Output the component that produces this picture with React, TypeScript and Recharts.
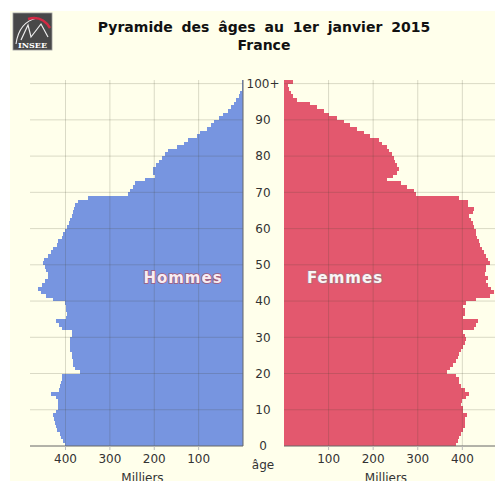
import React from 'react';
import { BarChart, Bar, XAxis, YAxis, ReferenceLine } from 'recharts';

// age classes, 0 .. 100+
const AGES = Array.from({ length: 101 }, (_, i) => (i === 100 ? '100+' : String(i)));

// population in thousands, age 0 first
const HOMMES = [
  401, 405, 410, 412, 420, 422, 424, 426, 428, 422,
  418, 417, 418, 422, 432, 414, 413, 410, 409, 407,
  368, 378, 382, 384, 386, 386, 389, 390, 390, 390,
  386, 386, 409, 414, 421, 398, 397, 398, 399, 401,
  428, 445, 455, 461, 452, 446, 440, 440, 443, 447,
  450, 448, 440, 432, 428, 420, 416, 408, 405, 401,
  396, 392, 390, 386, 382, 381, 379, 372, 350, 260,
  255, 248, 243, 221, 198, 203, 203, 195, 190, 183,
  175, 168, 149, 134, 123, 104, 97, 82, 72, 66,
  55, 44, 33, 28, 20, 15, 10, 6, 3, 2,
  2,
];

const FEMMES = [
  386, 390, 393, 397, 401, 405, 405, 406, 410, 401,
  401, 397, 399, 408, 416, 405, 397, 393, 392, 386,
  366, 372, 380, 386, 390, 393, 397, 401, 406, 408,
  405, 401, 427, 431, 435, 401, 405, 406, 401, 408,
  431, 461, 470, 465, 457, 453, 457, 450, 452, 453,
  461, 457, 452, 448, 445, 440, 438, 434, 431, 431,
  427, 423, 420, 416, 423, 427, 412, 412, 392, 295,
  292, 277, 262, 232, 245, 254, 258, 254, 248, 247,
  243, 235, 232, 220, 213, 194, 179, 164, 149, 134,
  119, 100, 89, 74, 59, 29, 21, 15, 12, 10,
  21,
];

const AGE_TICKS = ['0', '10', '20', '30', '40', '50', '60', '70', '80', '90', '100+'];
const X_TICKS = [100, 200, 300, 400];
const X_MAX = 480;

const BLUE = '#7795e0';
const RED = '#e3586e';
const CREAM = '#ffffeb';
const GRID = 'rgba(70,70,50,0.2)';
const FONT = 'DejaVu Sans, sans-serif';

// top row is 100+, bottom row is 0
const rows = AGES.map((age, i) => ({ age, hommes: HOMMES[i], femmes: FEMMES[i] })).reverse();

const AgeTick = (props: any) => {
  const { x, y, payload } = props;
  return (
    <text x={x + 20} y={y + (payload.offset || 0)} dy="0.36em" textAnchor="middle"
      fontSize={12} fill="#333" fontFamily={FONT}>
      {payload.value}
    </text>
  );
};

const xAxisProps = {
  type: 'number' as const,
  domain: [0, X_MAX],
  ticks: X_TICKS,
  allowDataOverflow: true,
  height: 35,
  tickSize: 4,
  tickMargin: 4,
  tickLine: { stroke: '#bbb' },
  axisLine: { stroke: '#666' },
  tick: { fontSize: 12, fill: '#333', fontFamily: FONT },
};

const gridLines = [
  ...X_TICKS.map(v => <ReferenceLine key={'x' + v} x={v} stroke={GRID} />),
  ...AGE_TICKS.slice(1).map(a => <ReferenceLine key={'y' + a} y={a} position="end" stroke={GRID} />),
];

export default function App() {
  return (
    <div style={{ position: 'fixed', left: 0, top: 0, width: 495, height: 481, overflow: 'hidden', background: '#fff', fontFamily: FONT }}>
      <div style={{ position: 'absolute', left: 10, top: 11, right: 0, bottom: 0, background: CREAM }} />

      <div style={{ position: 'absolute', left: 0, top: 0 }}>
        <BarChart width={284} height={481} data={rows} layout="vertical" barCategoryGap={0}
          margin={{ top: 80, right: 0, bottom: 0, left: 30 }}>
          <XAxis {...xAxisProps} reversed
            label={{ value: 'Milliers', position: 'insideBottom', offset: -1, dx: 6, fill: '#333', fontSize: 12, fontFamily: FONT }} />
          <YAxis type="category" dataKey="age" orientation="right" width={41} ticks={AGE_TICKS} interval={0}
            tickSize={0} tickMargin={0} tickLine={false} axisLine={{ stroke: '#666' }} tick={AgeTick} />
          <Bar dataKey="hommes" fill={BLUE} shapeRendering="crispEdges" isAnimationActive={false} />
          {gridLines}
        </BarChart>
      </div>

      <div style={{ position: 'absolute', left: 283, top: 0 }}>
        <BarChart width={215} height={481} data={rows} layout="vertical" barCategoryGap={0}
          margin={{ top: 80, right: 0, bottom: 0, left: 1 }}>
          <XAxis {...xAxisProps}
            label={{ value: 'Milliers', position: 'insideBottom', offset: -1, dx: -5, fill: '#333', fontSize: 12, fontFamily: FONT }} />
          <YAxis type="category" dataKey="age" width={0} tick={false} tickLine={false} axisLine={{ stroke: '#666' }} />
          <Bar dataKey="femmes" fill={RED} shapeRendering="crispEdges" isAnimationActive={false} />
          {gridLines}
        </BarChart>
      </div>

      <svg width={495} height={481} style={{ position: 'absolute', left: 0, top: 0, pointerEvents: 'none' }}>
        <g transform="translate(13,13)">
          <rect x={0} y={0} width={39} height={37} fill="#484848" stroke="#999" strokeWidth={0.8} />
          <path d="M3 31 Q 6 9 24 5" stroke="#eee" strokeWidth={1.1} fill="none" />
          <path d="M15 6 Q 29 2 37 15" stroke="#d42a44" strokeWidth={2.4} fill="none" />
          <path d="M8 27 L 15 12 L 18 24 L 28 11 L 35 24" stroke="#eee" strokeWidth={1.2} fill="none" />
          <text x={19.5} y={34.5} textAnchor="middle" fontSize={8} fontWeight="bold" fill="#fff" fontFamily="DejaVu Serif, serif">INSEE</text>
        </g>
        <text x={264} y={32} textAnchor="middle" fontSize={14} fontWeight="bold" fill="#111" fontFamily={FONT} style={{ wordSpacing: 4 }}>
          Pyramide des âges au 1er janvier 2015
        </text>
        <text x={264} y={50} textAnchor="middle" fontSize={14} fontWeight="bold" fill="#111" fontFamily={FONT}>
          France
        </text>
        <text x={183} y={283} textAnchor="middle" fontSize={15} fontWeight="bold" letterSpacing={1} fill="#f7edf3"
          stroke="#a05a78" strokeWidth={1.6} style={{ paintOrder: 'stroke' }} fontFamily={FONT}>
          Hommes
        </text>
        <text x={345} y={283} textAnchor="middle" fontSize={15} fontWeight="bold" letterSpacing={1} fill="#faf6f6"
          stroke="#b0707c" strokeWidth={1.6} style={{ paintOrder: 'stroke' }} fontFamily={FONT}>
          Femmes
        </text>
        <text x={263} y={469} textAnchor="middle" fontSize={12} fill="#333" fontFamily={FONT}>âge</text>
      </svg>
    </div>
  );
}
